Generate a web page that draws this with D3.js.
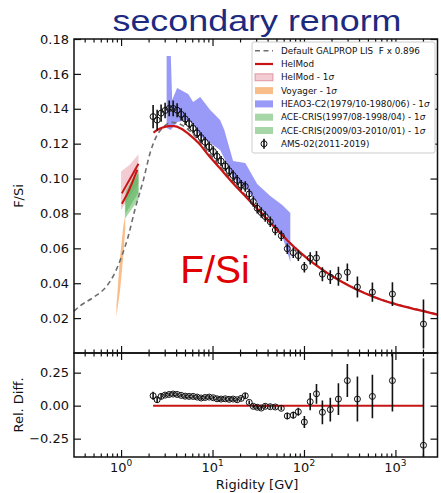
<!DOCTYPE html>
<html>
<head>
<meta charset="utf-8">
<script src="https://cdn.jsdelivr.net/npm/d3@7"></script>
<style>
body { margin: 0; background: #fff; }
text { font-family: "DejaVu Sans", sans-serif; fill: #111; white-space: pre; }
</style>
</head>
<body>
<div class="container"></div>
<script>
// AMS-02 (2011-2019) F/Si
var amsR = [2.24, 2.48, 2.74, 3.03, 3.36, 3.71, 4.10, 4.54, 5.02, 5.55,
    6.14, 6.79, 7.51, 8.31, 9.19, 10.2, 11.2, 12.4, 13.8, 15.2,
    16.8, 18.6, 20.6, 22.8, 25.2, 27.9, 30.8, 34.1, 37.7, 42.8,
    48.6, 56.5, 65.7, 76.4, 86.7, 101, 117, 137, 159, 194,
    238, 298, 384, 560, 927, 2026];
var amsVal = [0.1355, 0.1335, 0.1375, 0.1390, 0.1402, 0.1402, 0.1392, 0.1368, 0.1342, 0.1315,
    0.1288, 0.1262, 0.1235, 0.1208, 0.1182, 0.1155, 0.1128, 0.1100, 0.1072, 0.1045,
    0.1018, 0.0990, 0.0962, 0.0955, 0.0912, 0.0868, 0.0830, 0.0805, 0.0782, 0.0752,
    0.0705, 0.0672, 0.0598, 0.0575, 0.0558, 0.0492, 0.0543, 0.0545, 0.0452, 0.0435,
    0.0440, 0.0463, 0.0378, 0.0349, 0.0338, 0.0166];
var amsErr = [0.0067, 0.006, 0.005, 0.0045, 0.0045, 0.0045, 0.004, 0.0035, 0.0035, 0.003,
    0.003, 0.003, 0.003, 0.003, 0.003, 0.003, 0.003, 0.003, 0.003, 0.003,
    0.003, 0.003, 0.003, 0.003, 0.003, 0.003, 0.003, 0.003, 0.003, 0.003,
    0.003, 0.003, 0.003, 0.003, 0.003, 0.003, 0.0035, 0.004, 0.004, 0.004,
    0.0055, 0.005, 0.006, 0.0055, 0.0068, 0.014];
var relVal = [0.075, 0.045, 0.07, 0.08, 0.085, 0.088, 0.085, 0.078, 0.072, 0.07,
    0.07, 0.065, 0.058, 0.062, 0.065, 0.06, 0.052, 0.05, 0.052, 0.048,
    0.05, 0.045, 0.055, 0.075, 0.025, -0.005, -0.012, -0.018, -0.005, -0.008,
    -0.01, -0.02, -0.078, -0.072, -0.046, -0.124, 0.03, 0.09, -0.05, -0.03,
    0.05, 0.19, 0.05, 0.07, 0.19, -0.3];
var relErr = [0.03, 0.025, 0.02, 0.015, 0.015, 0.015, 0.015, 0.015, 0.015, 0.015,
    0.015, 0.015, 0.015, 0.015, 0.015, 0.015, 0.015, 0.015, 0.015, 0.015,
    0.015, 0.015, 0.015, 0.02, 0.015, 0.015, 0.015, 0.015, 0.015, 0.015,
    0.015, 0.015, 0.025, 0.025, 0.03, 0.045, 0.065, 0.075, 0.09, 0.09,
    0.12, 0.125, 0.17, 0.165, 0.235, 0.66];

// HelMod modulated curve
var helmodR = [2.26, 2.5, 2.8, 3.3, 3.8, 4.5, 5.5, 7, 9, 12, 16, 21, 28, 37, 50, 65, 85, 110, 150, 200, 300, 450, 700, 1000, 1500, 2031, 2884];
var helmodVal = [0.1263, 0.1279, 0.1291, 0.1300, 0.1300, 0.1287, 0.1255, 0.1205, 0.1135, 0.1060, 0.0985, 0.0918, 0.0850, 0.0783, 0.0710, 0.0648, 0.0590, 0.0540, 0.0487, 0.0443, 0.0390, 0.0345, 0.0305, 0.0280, 0.0256, 0.0240, 0.0220];

// Default GALPROP LIS  F x 0.896
var lisR = [0.3057, 0.355, 0.5, 0.7, 0.86, 1.02, 1.2, 1.42, 1.76, 2.08, 2.4, 2.9, 3.6, 4.5, 5.5, 7, 9, 12, 16, 21, 28, 37, 50, 65, 85, 110, 150, 200, 300, 450, 700, 1000, 1500, 2031, 2884];
var lisVal = [0.0240, 0.0270, 0.0319, 0.0385, 0.0462, 0.0557, 0.0671, 0.0824, 0.0995, 0.1148, 0.1235, 0.1295, 0.1322, 0.1310, 0.1278, 0.1222, 0.1150, 0.1072, 0.0995, 0.0926, 0.0856, 0.0786, 0.0712, 0.0650, 0.0592, 0.0542, 0.0489, 0.0445, 0.0392, 0.0347, 0.0307, 0.0282, 0.0258, 0.0242, 0.0222];

// HelMod at low rigidity (Voyager / ACE epochs)
var helmodLowR = [1.0, 1.25, 1.55];
var helmodLowLo = [0.082, 0.090, 0.097];
var helmodLowHi = [0.104, 0.108, 0.114];
var helmodLineAR = [1.02, 1.55];
var helmodLineAVal = [0.0915, 0.1085];
var helmodLineBR = [1.02, 1.2, 1.5];
var helmodLineBVal = [0.0855, 0.0925, 0.1050];

// Voyager band
var voyR = [0.89, 0.975, 1.06, 1.11];
var voyLo = [0.021, 0.036, 0.056, 0.071];
var voyHi = [0.027, 0.055, 0.073, 0.079];

// HEAO3-C2 band
var heaoR = [3.15, 3.50, 3.62, 4.10, 5.42, 6.14, 7.33, 9.43, 12.1, 13.4, 16.8, 22.8, 30.8, 42.8, 57.9, 70.9];
var heaoLo = [0.1290, 0.1278, 0.1290, 0.1324, 0.1336, 0.1313, 0.1244, 0.1204, 0.1164, 0.1118, 0.1003, 0.0952, 0.0860, 0.0762, 0.0671, 0.0522];
var heaoHi = [0.1703, 0.1703, 0.1450, 0.1519, 0.1485, 0.1439, 0.1468, 0.1393, 0.1336, 0.1281, 0.1101, 0.1089, 0.0969, 0.0900, 0.0848, 0.0802];

// ACE-CRIS bands
var ace1R = [1.1, 1.55];
var ace1Lo = [0.077, 0.088];
var ace1Hi = [0.090, 0.103];
var ace2R = [1.12, 1.55];
var ace2Lo = [0.080, 0.092];
var ace2Hi = [0.093, 0.106];

var xMajor = [1, 10, 100, 1000];
var xMinor = [0.4, 0.5, 0.6, 0.7, 0.8, 0.9, 2, 3, 4, 5, 6, 7, 8, 9, 20, 30, 40, 50, 60, 70, 80, 90,
    200, 300, 400, 500, 600, 700, 800, 900, 2000];
var yTicks = [0.02, 0.04, 0.06, 0.08, 0.10, 0.12, 0.14, 0.16, 0.18];
var relTicks = [-0.25, 0, 0.25];

var legendLabels = ['Default GALPROP LIS  F x 0.896', 'HelMod', 'HelMod - 1', 'Voyager - 1',
    'HEAO3-C2(1979/10-1980/06) - 1', 'ACE-CRIS(1997/08-1998/04) - 1', 'ACE-CRIS(2009/03-2010/01) - 1', 'AMS-02(2011-2019)'];

var translate = (x, y) => `translate(${ x },${ y })`;
var zip = (rs, a, b) => rs.map((r, i) => ({r: r, a: a[i], b: b ? b[i] : null}));

var W = 441, H = 493;
var L = 74, R = 437.5, T = 39, MID = 353, B = 457;

var RED = '#c81414';
var colors = {
    pink: 'rgba(222,110,130,0.35)',
    orange: 'rgba(245,145,60,0.6)',
    blue: 'rgba(70,70,240,0.55)',
    green: 'rgba(80,175,80,0.5)'
};

var svg = d3.select('.container').append('svg')
    .attr('width', W)
    .attr('height', H);

var x = d3.scaleLog().domain([0.3057, 2884]).range([L, R]);
var y = d3.scaleLinear().domain([0, 0.18]).range([MID, T]);
var yr = d3.scaleLinear().domain([-0.389, 0.399]).range([B, MID]);

var defs = svg.append('defs');
defs.append('clipPath').attr('id', 'clipMain').append('rect')
    .attr('x', L).attr('y', T).attr('width', R - L).attr('height', MID - T);
defs.append('clipPath').attr('id', 'clipRel').append('rect')
    .attr('x', L).attr('y', MID).attr('width', R - L).attr('height', B - MID);

// ---- main panel ----
var main = svg.append('g').attr('clip-path', 'url(#clipMain)');

var band = (g, data, fill, stroke) => {
    var area = d3.area()
        .x(d => x(d.r))
        .y0(d => y(d.a))
        .y1(d => y(d.b));
    g.append('path')
        .attr('d', area(data))
        .attr('fill', fill)
        .attr('stroke', stroke || 'none');
}

var line = (g, data, stroke, width, dash) => {
    var ln = d3.line().x(d => x(d.r)).y(d => y(d.a)).curve(d3.curveMonotoneX);
    g.append('path')
        .attr('d', ln(data))
        .attr('fill', 'none')
        .attr('stroke', stroke)
        .attr('stroke-width', width)
        .attr('stroke-dasharray', dash || null);
}

band(main, zip(voyR, voyLo, voyHi), colors.orange);
band(main, zip(helmodLowR, helmodLowLo, helmodLowHi), colors.pink);
band(main, zip(ace1R, ace1Lo, ace1Hi), colors.green);
band(main, zip(ace2R, ace2Lo, ace2Hi), colors.green);
band(main, zip(heaoR, heaoLo, heaoHi), colors.blue);

line(main, zip(lisR, lisVal), '#6e6e6e', 1.6, '5,3.5');
line(main, zip(helmodR, helmodVal), RED, 2.2);
line(main, zip(helmodLineAR, helmodLineAVal), RED, 2);
line(main, zip(helmodLineBR, helmodLineBVal), RED, 2);

var points = (g, yScale, vals, errs) => {
    var data = amsR.map((r, i) => ({r: r, v: vals[i], e: errs[i]}));
    g.selectAll(null)
        .data(data)
        .enter().append('line')
        .attr('x1', d => x(d.r)).attr('x2', d => x(d.r))
        .attr('y1', d => yScale(d.v - d.e)).attr('y2', d => yScale(d.v + d.e))
        .attr('stroke', '#111')
        .attr('stroke-width', 1.6);
    g.selectAll(null)
        .data(data)
        .enter().append('circle')
        .attr('cx', d => x(d.r))
        .attr('cy', d => yScale(d.v))
        .attr('r', 3)
        .attr('fill', 'none')
        .attr('stroke', '#111')
        .attr('stroke-width', 1);
}

points(main, y, amsVal, amsErr);

main.append('text')
    .attr('x', 215).attr('y', 283)
    .attr('text-anchor', 'middle')
    .style('font-family', '"Liberation Sans", Arial, sans-serif')
    .style('font-size', '39px')
    .style('fill', '#e00000')
    .text('F/Si');

// ---- residual panel ----
var rel = svg.append('g').attr('clip-path', 'url(#clipRel)');
rel.append('line')
    .attr('x1', x(amsR[0])).attr('x2', x(amsR[amsR.length - 1]))
    .attr('y1', yr(0)).attr('y2', yr(0))
    .attr('stroke', RED)
    .attr('stroke-width', 2);
points(rel, yr, relVal, relErr);

// ---- axes ----
var tickAxis = (axis, tx, ty) => {
    var g = svg.append('g')
        .attr('transform', translate(tx, ty))
        .call(axis);
    g.select('.domain').remove();
    g.selectAll('line').attr('stroke', '#111').attr('stroke-width', 1.2);
    g.selectAll('text').style('font-size', '13px').style('font-family', '"DejaVu Sans", sans-serif').attr('fill', '#111');
    return g;
}

[[d3.axisBottom, MID], [d3.axisTop, T], [d3.axisTop, MID], [d3.axisBottom, B]].forEach(([ax, ty]) => {
    tickAxis(ax(x).tickValues(xMajor).tickSize(-7).tickFormat(''), 0, ty);
    tickAxis(ax(x).tickValues(xMinor).tickSize(-3.5).tickFormat(''), 0, ty);
});

tickAxis(d3.axisLeft(y).tickValues(yTicks).tickSize(-7).tickPadding(5).tickFormat(d3.format('.2f')), L, 0);
tickAxis(d3.axisRight(y).tickValues(yTicks).tickSize(-7).tickFormat(''), R, 0);
tickAxis(d3.axisLeft(yr).tickValues(relTicks).tickSize(-7).tickPadding(5).tickFormat(d => d3.format('.2f')(d).replace('-', '\u2212')), L, 0);
tickAxis(d3.axisRight(yr).tickValues(relTicks).tickSize(-7).tickFormat(''), R, 0);

// x tick labels 10^n
xMajor.forEach((v, i) => {
    var t = svg.append('text')
        .attr('x', x(v))
        .attr('y', 472)
        .attr('text-anchor', 'middle')
        .style('font-size', '13px');
    t.append('tspan').text('10');
    t.append('tspan').attr('dy', -6).style('font-size', '9px').text(i);
});

// frames
[[T, MID], [MID, B]].forEach(([t, b]) => {
    svg.append('rect')
        .attr('x', L).attr('y', t)
        .attr('width', R - L).attr('height', b - t)
        .attr('fill', 'none')
        .attr('stroke', '#111')
        .attr('stroke-width', 1.5);
});

// axis labels
svg.append('text')
    .attr('transform', translate(23, (T + MID) / 2) + ' rotate(-90)')
    .attr('text-anchor', 'middle')
    .style('font-size', '13px')
    .text('F/Si');
svg.append('text')
    .attr('transform', translate(23, (MID + B) / 2) + ' rotate(-90)')
    .attr('text-anchor', 'middle')
    .style('font-size', '13px')
    .text('Rel. Diff.');
svg.append('text')
    .attr('x', 257).attr('y', 489)
    .attr('text-anchor', 'middle')
    .style('font-size', '13px')
    .text('Rigidity [GV]');

// title
svg.append('text')
    .attr('x', 257).attr('y', 31)
    .attr('text-anchor', 'middle')
    .attr('textLength', 289)
    .attr('lengthAdjust', 'spacingAndGlyphs')
    .style('font-family', '"Liberation Sans", Arial, sans-serif')
    .style('font-size', '29px')
    .style('fill', '#1c2a80')
    .text('secondary renorm');

// ---- legend ----
var leg = svg.append('g');
leg.append('rect')
    .attr('x', 252).attr('y', 42)
    .attr('width', 183).attr('height', 111)
    .attr('rx', 2)
    .attr('fill', '#fff')
    .attr('stroke', '#cccccc')
    .attr('stroke-width', 1);

var rowY = i => 50.7 + i * 13.3;
var hx0 = 255, hx1 = 273;

leg.append('line').attr('x1', hx0).attr('x2', hx1).attr('y1', rowY(0)).attr('y2', rowY(0))
    .attr('stroke', '#6e6e6e').attr('stroke-width', 1.6).attr('stroke-dasharray', '5,3.5');
leg.append('line').attr('x1', hx0).attr('x2', hx1).attr('y1', rowY(1)).attr('y2', rowY(1))
    .attr('stroke', RED).attr('stroke-width', 2.2);
[[2, colors.pink, 'rgba(200,80,100,0.5)'], [3, colors.orange], [4, colors.blue], [5, colors.green], [6, colors.green]]
    .forEach(([i, fill, stroke]) => {
        leg.append('rect')
            .attr('x', hx0).attr('y', rowY(i) - 3.5)
            .attr('width', hx1 - hx0).attr('height', 7)
            .attr('fill', fill)
            .attr('stroke', stroke || 'none');
    });
leg.append('line').attr('x1', 264).attr('x2', 264).attr('y1', rowY(7) - 5).attr('y2', rowY(7) + 5)
    .attr('stroke', '#111').attr('stroke-width', 1.6);
leg.append('circle').attr('cx', 264).attr('cy', rowY(7)).attr('r', 3)
    .attr('fill', 'none').attr('stroke', '#111').attr('stroke-width', 1);

legendLabels.forEach((lab, i) => {
    var t = leg.append('text')
        .attr('x', 281).attr('y', rowY(i))
        .attr('dy', '0.35em')
        .style('font-size', '8.8px');
    t.append('tspan').text(lab);
    if (i >= 2 && i <= 6) t.append('tspan').style('font-style', 'italic').text('\u03c3');
});
</script>
</body>
</html>
